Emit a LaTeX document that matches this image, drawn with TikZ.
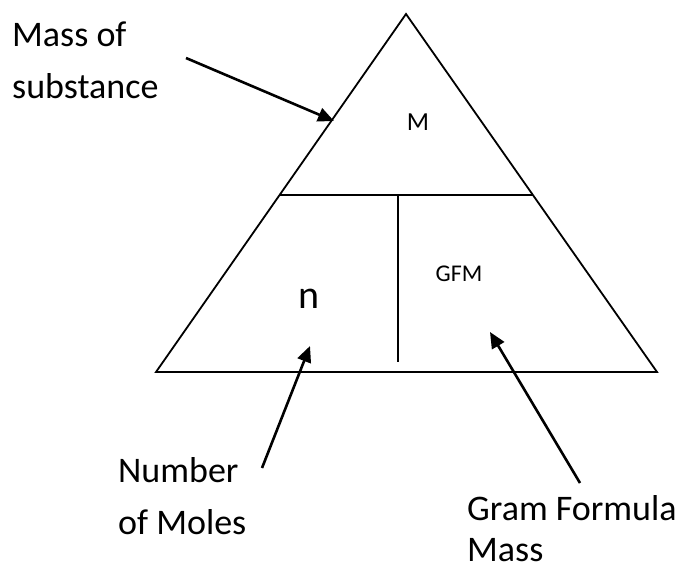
\documentclass[tikz,border=0pt]{standalone}
\usepackage{fontspec}
\setmainfont{Carlito}
\usetikzlibrary{arrows.meta,calc}
\begin{document}
\begin{tikzpicture}[x=1pt,y=-1pt,
  outline/.style={line width=1.8pt,line join=miter},
  ptr/.style={line width=2.6pt,-{Triangle[length=16pt,width=14pt]}},
  lbl/.style={inner sep=0pt,anchor=base west,font=\fontsize{36}{52}\selectfont,align=left},
  inlbl/.style={inner sep=0pt,anchor=base,font=\fontsize{26}{30}\selectfont}]
\useasboundingbox (0,0) rectangle (684,569);
\coordinate (A) at (406,14);
\coordinate (L) at (156,372);
\coordinate (R) at (657,372);
\draw[outline] (A) -- (R) -- (L) -- cycle;
\coordinate (HL) at ($(L)!0.494!(A)$);
\coordinate (HR) at ($(R)!0.494!(A)$);
\draw[outline] (HL) -- (HR);
\coordinate (VT) at (398,195);
\coordinate (VB) at (398,362);
\draw[outline] (VT) -- (VB);
% inner labels
\node[inlbl] (m) at (418,131) {M};
\node[inlbl,font=\fontsize{24}{28}\selectfont] (gfm) at (459,281) {GFM};
\node[inner sep=0pt,anchor=base,font=\fontsize{40}{44}\selectfont] (n) at (309,308) {n};
% outer labels
\node[lbl] (mass1) at (12,47) {Mass of};
\node[lbl] (mass2) at (12,99) {substance};
\node[lbl] (num1) at (118,482) {Number};
\node[lbl] (num2) at (118,534) {of Moles};
\node[lbl] (gram1) at (467,520) {Gram Formula};
\node[lbl] (gram2) at (467,561) {Mass};
% arrows
\coordinate (a1s) at (186,58);
\coordinate (a1e) at (334,121);
\coordinate (a2s) at (262,468);
\coordinate (a2e) at (310,346);
\coordinate (a3s) at (580,483);
\coordinate (a3e) at (490,332);
\draw[ptr] (a1s) -- (a1e);
\draw[ptr] (a2s) -- (a2e);
\draw[ptr] (a3s) -- (a3e);
\end{tikzpicture}
\end{document}
